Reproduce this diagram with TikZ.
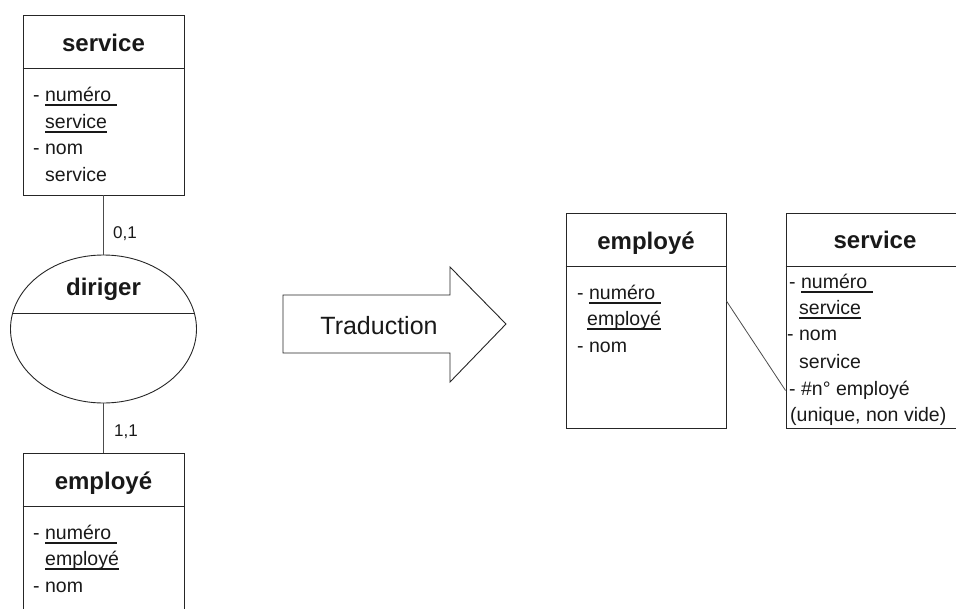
\documentclass[tikz,border=0pt]{standalone}
\usepackage{fontspec}
\setmainfont{Liberation Sans}
\usetikzlibrary{calc,shapes.geometric}

% thick underline for identifier attributes
\newcommand{\souligne}[1]{\setbox0\hbox{#1}\rlap{\rule[-4.6pt]{\wd0}{1.6pt}}\box0}

\tikzset{
  entbox/.style={draw=black!85, line width=0.9pt, rectangle, inner sep=0pt},
  sepline/.style={draw=black!85, line width=0.9pt},
  title/.style={font=\fontsize{24}{24}\selectfont\bfseries, inner sep=0pt, anchor=base, text=black!90},
  attr/.style={font=\fontsize{19.5}{19.5}\selectfont, inner sep=0pt, anchor=base west, text=black!90},
  card/.style={font=\fontsize{17}{17}\selectfont, inner sep=0pt, anchor=base west, text=black!90},
  link/.style={draw=black!70, line width=0.8pt},
  relshape/.style={draw=black!85, line width=0.9pt, ellipse, inner sep=0pt},
}

\begin{document}
\begin{tikzpicture}[x=1pt, y=-1pt]
\useasboundingbox (0,0) rectangle (956,608);
\clip (0,0) rectangle (956,608);

% ---------- conceptual model ----------
\node[entbox, minimum width=161pt, minimum height=180pt] (svcL) at (103.5,105) {};
\draw[sepline] ($(svcL.north west)+(0,54)$) -- ($(svcL.north east)+(0,54)$);
\node[title] (svcLt) at (103.5,51) {service};
\node[attr] (svcL1) at (33,101) {- \souligne{numéro\ }};
\node[attr] (svcL2) at (45,128) {\souligne{service}};
\node[attr] (svcL3) at (33,154) {- nom};
\node[attr] (svcL4) at (45,181) {service};

\node[relshape, minimum width=186pt, minimum height=148pt] (dir) at (103.5,329) {};
\draw[sepline] ($(dir.center)+(-90.8,-16)$) -- ($(dir.center)+(90.8,-16)$);
\node[title] (dirt) at (103.5,295) {diriger};

\node[entbox, minimum width=161pt, minimum height=200pt] (empL) at (103.5,553) {};
\draw[sepline] ($(empL.north west)+(0,54)$) -- ($(empL.north east)+(0,54)$);
\node[title] (empLt) at (103.5,489) {employé};
\node[attr] (empL1) at (33,539) {- \souligne{numéro\ }};
\node[attr] (empL2) at (45,565) {\souligne{employé}};
\node[attr] (empL3) at (33,592) {- nom};

\draw[link] (svcL.south) -- (dir.north);
\draw[link] (dir.south) -- (empL.north);
\node[card] (c01) at (113,238) {0,1};
\node[card] (c11) at (114,436) {1,1};

% ---------- translation arrow ----------
\draw[sepline, fill=white] (283,295) -- (450,295) -- (450,267) -- (506,324)
  -- (450,382) -- (450,353) -- (283,353) -- cycle;
\node[font=\fontsize{25}{25}\selectfont, inner sep=0pt, anchor=base, text=black!90] (trad) at (379,334) {Traduction};

% ---------- relational model ----------
\node[entbox, minimum width=160pt, minimum height=215pt] (empR) at (646,320.5) {};
\draw[sepline] ($(empR.north west)+(0,54)$) -- ($(empR.north east)+(0,54)$);
\node[title] (empRt) at (646,249) {employé};
\node[attr] (empR1) at (577,299) {- \souligne{numéro\ }};
\node[attr] (empR2) at (587,325) {\souligne{employé}};
\node[attr] (empR3) at (577,352) {- nom};

\node[entbox, minimum width=190pt, minimum height=215pt] (svcR) at (881,320.5) {};
\draw[sepline] ($(svcR.north west)+(0,54)$) -- ($(svcR.north east)+(0,54)$);
\node[title] (svcRt) at (875,248) {service};
\node[attr] (svcR1) at (789,288) {- \souligne{numéro\ }};
\node[attr] (svcR2) at (799,314) {\souligne{service}};
\node[attr] (svcR3) at (787,340) {- nom};
\node[attr] (svcR4) at (799,368) {service};
\node[attr] (svcR5) at (789,395) {- \#n° employé};
\node[attr] (svcR6) at (790,421) {(unique, non vide)};

% foreign key reference
\coordinate (fkA) at ($(empR.east)+(0,-19.5)$);
\coordinate (fkB) at ($(svcR.west)+(0,70)$);
\draw[link] (fkA) -- (fkB);
\end{tikzpicture}
\end{document}
